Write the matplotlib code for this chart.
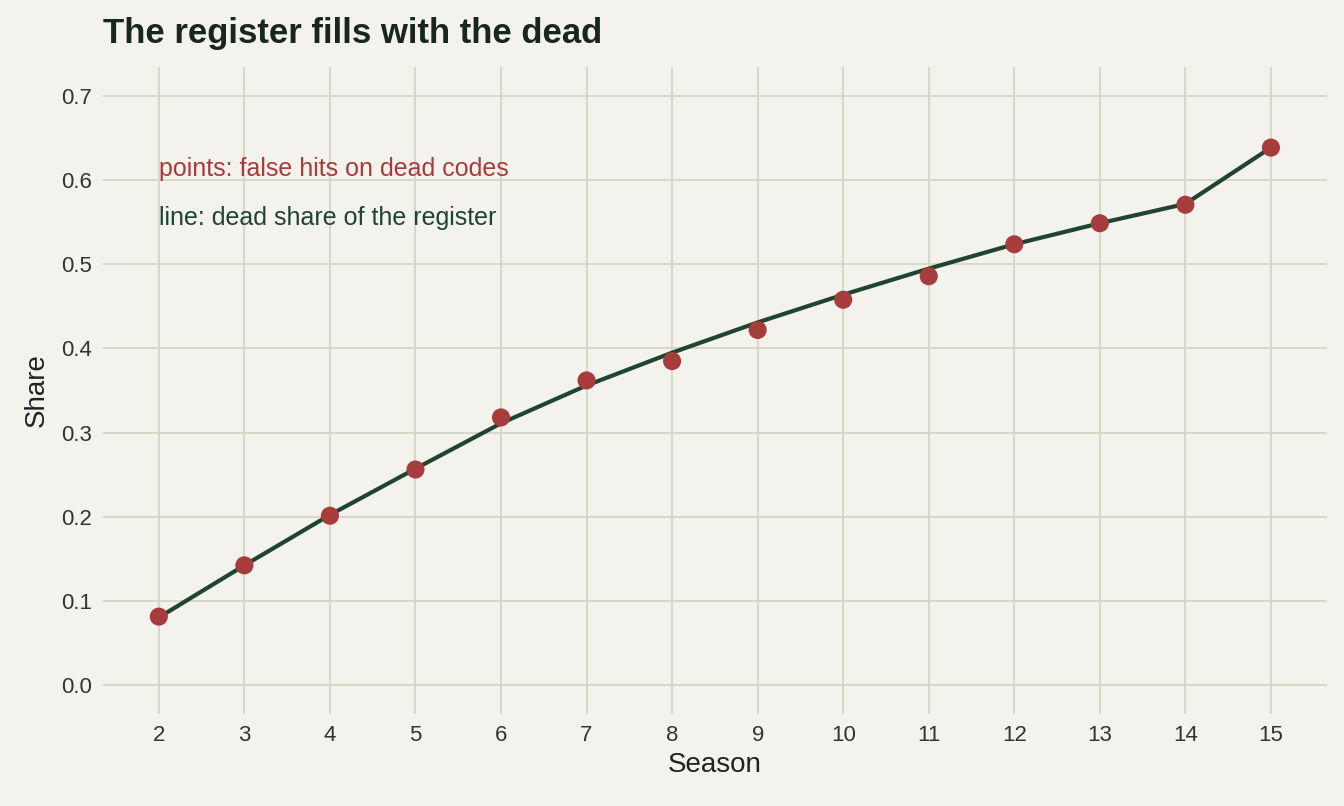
import matplotlib
matplotlib.use("Agg")
import matplotlib.pyplot as plt

seasons = [2, 3, 4, 5, 6, 7, 8, 9, 10, 11, 12, 13, 14, 15]
false_hits = [0.081, 0.142, 0.201, 0.256, 0.318, 0.362, 0.385, 0.422, 0.458, 0.486, 0.524, 0.549, 0.571, 0.639]
dead_share = [0.080, 0.142, 0.202, 0.257, 0.311, 0.356, 0.395, 0.431, 0.464, 0.495, 0.524, 0.549, 0.572, 0.639]

plt.rcParams['font.family'] = ['Liberation Sans', 'DejaVu Sans']
bg = '#f3f2ec'
red = '#a63c3c'
green = '#1f4530'

fig, ax = plt.subplots(figsize=(13.44, 8.06), dpi=100)
fig.patch.set_facecolor(bg)
ax.set_facecolor(bg)
fig.subplots_adjust(left=0.0768, right=0.987, top=0.917, bottom=0.114)

ax.plot(seasons, dead_share, color=green, lw=3, zorder=2)
ax.scatter(seasons, false_hits, color=red, s=170, zorder=3, edgecolors='none')

ax.set_xlim(1.35, 15.65)
ax.set_ylim(-0.035, 0.735)
ax.set_xticks(seasons)
ax.set_yticks([0.0, 0.1, 0.2, 0.3, 0.4, 0.5, 0.6, 0.7])
ax.set_yticklabels([f'{v:.1f}' for v in ax.get_yticks()])
ax.grid(True, color='#d6d6c6', lw=1.3)
ax.set_axisbelow(True)
for s in ax.spines.values():
    s.set_visible(False)
ax.tick_params(length=0, labelsize=16, colors='#333333', pad=8)

ax.set_xlabel('Season', fontsize=20, color='#222222', labelpad=4)
ax.set_ylabel('Share', fontsize=20, color='#222222', labelpad=8)
fig.text(0.077, 0.958, 'The register fills with the dead', fontsize=25, fontweight='bold',
         color='#18261c', va='center')

ax.text(2.0, 0.614, 'points: false hits on dead codes', color=red, fontsize=18, va='center')
ax.text(2.0, 0.555, 'line: dead share of the register', color=green, fontsize=18, va='center')

fig.savefig('out.png', dpi=100, facecolor=bg)
